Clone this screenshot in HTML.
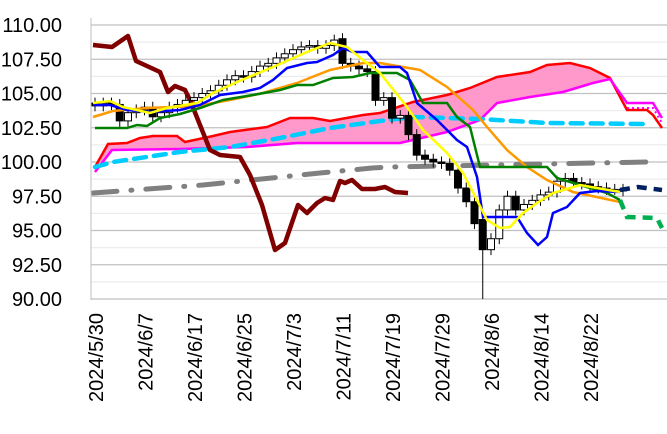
<!DOCTYPE html>
<html><head><meta charset="utf-8"><style>
html,body{margin:0;padding:0;background:#fff;}
svg{display:block;font-family:"Liberation Sans",sans-serif;}
</style></head><body>
<svg id="s" width="667" height="434" viewBox="0 0 667 434" xmlns="http://www.w3.org/2000/svg">
<g id="grid"></g>
<g id="cloud">
<polygon fill="#ff99cc" points="95,167 108,144 127,143 140,138 153,136 177,136 185,142 213,136 230,132 267,127 290,118 313,118 330,121 363,115 380,113 413,102 447,95 470,88 497,77 530,72 547,65 570,63 590,68 610,78 610,79 593,83 563,92 530,97 497,103 480,120 447,132 400,143 380,143 297,143 247,147 180,149 112,150 95,172"/>
<polyline fill="none" stroke="#ff0000" stroke-width="2.5" points="95,167 108,144 127,143 140,138 153,136 177,136 185,142 213,136 230,132 267,127 290,118 313,118 330,121 363,115 380,113 413,102 447,95 470,88 497,77 530,72 547,65 570,63 590,68 610,78 627,110 647,110 653,115 662,128"/>
<polyline fill="none" stroke="#ff00ff" stroke-width="2.5" points="95,172 112,150 180,149 247,147 297,143 380,143 400,143 447,132 480,120 497,103 530,97 563,92 593,83 610,79 627,103 653,103 662,118"/>
<polyline fill="none" stroke="#ff00ff" stroke-width="2" stroke-dasharray="2,3" points="627,108 653,108 662,123"/>
</g>
<polyline fill="none" stroke="#808080" stroke-width="5" stroke-linecap="round" stroke-dasharray="24,14,1,14" points="93,193 203,185 320,173 372,168 390,167 647,162"/>
<polyline fill="none" stroke="#00ccff" stroke-width="4.5" stroke-linecap="round" stroke-dasharray="12,8" points="95,167 113,162 180,152 230,147 280,138 330,128 380,121 413,117 480,119 547,123 648,124"/>
<polyline fill="none" stroke="#800000" stroke-width="4.5" stroke-linejoin="round" points="93,45 112,47 128,36 136,61 160,72 168,92 175,86 185,90 190,100 200,125 210,150 220,155 240,157 250,175 262,205 275,250 285,243 298,205 307,213 317,203 325,198 333,200 340,181 345,183 352,180 362,189 375,189 385,187 395,192 408,193"/>
<g id="candles"></g>
<polyline fill="none" stroke="#ff9900" stroke-width="2.5" points="93,117 113,111 147,108 197,106 230,100 263,93 297,83 330,70 363,63 380,63 420,70 447,87 473,110 487,127 507,150 527,167 547,180 573,192 620,202"/>
<polyline fill="none" stroke="#008000" stroke-width="2.5" points="95,128 127,128 137,125 147,126 160,118 180,114 200,108 223,100 253,95 280,90 297,85 313,85 333,78 353,77 370,73 397,73 410,80 423,103 447,103 457,117 470,127 480,167 547,167 557,178 580,185 607,193 620,200"/>
<polyline fill="none" stroke="#00b050" stroke-width="4.5" stroke-dasharray="10,7" points="620,200 627,217 657,218 662,228"/>
<polyline fill="none" stroke="#0000ff" stroke-width="2.5" points="93,105 110,105 127,110 150,112 180,110 200,105 220,95 243,92 260,88 273,80 287,68 307,63 317,62 333,55 343,48 353,52 367,52 380,67 400,67 407,73 417,103 437,120 457,140 467,147 477,177 483,217 517,217 527,233 538,245 547,237 553,213 567,207 580,193 597,191 620,192"/>
<polyline fill="none" stroke="#ffff00" stroke-width="2.5" points="93,103 110,101 123,107 150,113 167,108 197,103 213,93 237,82 273,67 307,52 330,43 347,47 363,60 380,73 407,107 423,130 447,153 463,173 477,200 487,220 500,228 510,227 523,213 537,203 553,193 580,185 620,192"/>
<polyline fill="none" stroke="#002060" stroke-width="4.5" stroke-dasharray="10,7" points="620,190 638,187 662,190"/>
<line x1="91" y1="18" x2="91" y2="300" stroke="#bfbfbf" stroke-width="1"/>
<g id="ylab" font-size="20" text-anchor="end" fill="#000"></g>
<g id="xlab" font-size="20" text-anchor="end" fill="#000"></g>
</svg>
<script>
(function(){
var NS="http://www.w3.org/2000/svg";
function el(t,a,p){var e=document.createElementNS(NS,t);for(var k in a)e.setAttribute(k,a[k]);document.getElementById(p).appendChild(e);return e;}
function Y(v){return 25+(110-v)*13.7;}
for(var v=90;v<=110.01;v+=1.25){var major=Math.abs((v/2.5)-Math.round(v/2.5))<0.01;el("line",{x1:91,x2:667,y1:Y(v),y2:Y(v),stroke:major?"#c0c0c0":"#ececec","stroke-width":1.2},"grid");}
for(var v=90;v<=110.01;v+=2.5){var t=el("text",{x:62,y:Y(v)+7},"ylab");t.textContent=v.toFixed(2);}
var labs=["2024/5/30","2024/6/7","2024/6/17","2024/6/25","2024/7/3","2024/7/11","2024/7/19","2024/7/29","2024/8/6","2024/8/14","2024/8/22"];
labs.forEach(function(l,i){var x=96+i*49.5+7;var t=el("text",{x:0,y:0,transform:"translate("+x+",313) rotate(-90)"},"xlab");t.textContent=l;});
var c=[104.1,104.3,104.2,103.0,103.6,103.8,104.0,103.3,103.6,104.0,104.2,104.5,104.7,105.0,105.2,105.6,106.0,106.3,106.2,106.6,107.0,107.2,107.6,107.9,108.2,108.4,108.5,108.3,108.5,108.9,
107.2,107.0,106.8,106.6,104.5,104.7,103.2,103.4,102.0,100.5,100.2,100.0,99.9,99.4,98.1,97.1,95.5,93.6,94.4,96.5,97.5,96.5,96.9,97.2,97.6,97.8,98.6,98.8,98.5,98.4,98.2,98.1,98.0,98.0,97.9];
for(var i=0;i<c.length;i++){var x=95+i*8.25;var o=i==0?104.3:c[i-1];if(i==30)o=109.0;if(i==34)o=106.6;if(i==47)o=95.8;if(i==48)o=93.6;var cl=c[i];
var h=Math.max(o,cl)+0.4,l=Math.min(o,cl)-0.4;if(i==47)l=90;if(i==3)l=102.4;if(i==30)h=109.4;
el("line",{x1:x,x2:x,y1:Y(h),y2:Y(l),stroke:"#000","stroke-width":1},"candles");
var by=Y(Math.max(o,cl)),bh=Math.max(1.5,Math.abs(Y(o)-Y(cl)));
el("rect",{x:x-3.5,y:by,width:7,height:bh,fill:cl<o?"#000":"#fff",stroke:"#000","stroke-width":1},"candles");}
})();
</script>
</body></html>
